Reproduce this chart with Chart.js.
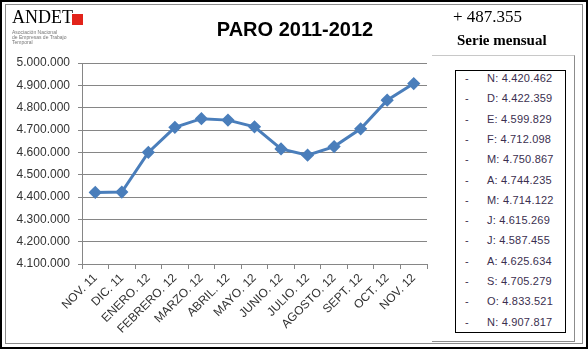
<!DOCTYPE html>
<html>
<head>
<meta charset="utf-8">
<script src="https://cdn.jsdelivr.net/npm/chart.js@4.4.0/dist/chart.umd.min.js"></script>
<style>
  html, body { margin: 0; padding: 0; background: #fff; }
  #frame { position: relative; width: 588px; height: 349px; box-sizing: border-box; border: 2px solid #000; overflow: hidden; }
  .abs { position: absolute; white-space: nowrap; }
  #chartBox { position: absolute; left: -2px; top: -2px; width: 440px; height: 349px; }
  #inner { position: absolute; left: 3px; top: 2px; width: 576px; height: 338px; border: 1px solid #8c8c8c; }
  #panelFrame { position: absolute; left: 430px; top: 53px; width: 142px; height: 285px; border-top: 1px solid #c8c8c8; border-right: 1px solid #8c8c8c; border-bottom: 1px solid #8c8c8c; }
  #list { position: absolute; left: 453px; top: 68px; width: 109px; height: 261px; border: 1px solid #000; }
  .row { position: absolute; left: 0; width: 109px; height: 14px; white-space: nowrap; font: 11px "Liberation Sans", sans-serif; color: #3b2f4f; }
  .row .d { position: absolute; left: 9px; top: 0; }
  .row .t { position: absolute; left: 31px; top: 0; letter-spacing: 0.2px; }
  #title { left: 0; width: 586px; top: 16px; text-align: center; font: bold 20px "Liberation Sans", sans-serif; color: #000; }
  #logo { left: 10px; top: 5px; font: 18px "Liberation Serif", serif; color: #000; }
  #redsq { left: 70px; top: 12px; width: 11px; height: 11px; background: #e2231a; }
  .tiny { font: 5px "Liberation Sans", sans-serif; color: #777; }
</style>
</head>
<body>
<div id="frame">
  <div id="inner"></div>
  <div id="panelFrame"></div>
  <div id="chartBox"><canvas id="paroChart"></canvas></div>
  <div class="abs" id="logo">ANDET</div>
  <div class="abs" id="redsq"></div>
  <div class="abs tiny" style="left:10px;top:27px;">Asociación Nacional</div>
  <div class="abs tiny" style="left:10px;top:32px;">de Empresas de Trabajo</div>
  <div class="abs tiny" style="left:10px;top:37px;">Temporal</div>
  <div class="abs" id="title">PARO 2011-2012</div>
  <div class="abs" style="left:451px;top:5px;font:17px 'Liberation Serif', serif;color:#000;">+ 487.355</div>
  <div class="abs" style="left:455px;top:30px;font:bold 15px 'Liberation Serif', serif;color:#000;">Serie mensual</div>
  <div id="list"></div>
</div>
<script>
const months = ['NOV. 11', 'DIC. 11', 'ENERO. 12', 'FEBRERO. 12', 'MARZO. 12', 'ABRIL. 12', 'MAYO. 12',
  'JUNIO. 12', 'JULIO. 12', 'AGOSTO. 12', 'SEPT. 12', 'OCT. 12', 'NOV. 12'];
const initials = ['N', 'D', 'E', 'F', 'M', 'A', 'M', 'J', 'J', 'A', 'S', 'O', 'N'];
const paro = [4420462, 4422359, 4599829, 4712098, 4750867, 4744235, 4714122,
  4615269, 4587455, 4625634, 4705279, 4833521, 4907817];
const yMin = 4100000;
const yMax = 5000000;
const yStep = 100000;

function fmt(v) {
  return String(Math.round(v)).replace(/\B(?=(\d{3})+(?!\d))/g, '.');
}

// lista de la derecha
const list = document.getElementById('list');
paro.forEach((v, i) => {
  const row = document.createElement('div');
  row.className = 'row';
  row.style.top = (1 + i * 20.3) + 'px';
  row.innerHTML = '<span class="d">-</span><span class="t">' + initials[i] + ': ' + fmt(v) + '</span>';
  list.appendChild(row);
});

const ctx = document.getElementById('paroChart').getContext('2d');
const gridColor = '#868686';

new Chart(ctx, {
  type: 'line',
  data: {
    labels: months,
    datasets: [{
      label: 'Paro',
      data: paro,
      borderColor: '#4a7ebb',
      backgroundColor: '#4a7ebb',
      borderWidth: 3,
      tension: 0,
      pointStyle: 'rectRot',
      pointRadius: 4.5,
      pointBackgroundColor: '#4a7ebb',
      pointBorderColor: '#4a7ebb'
    }]
  },
  options: {
    responsive: true,
    maintainAspectRatio: false,
    animation: false,
    layout: { padding: { top: 63, right: 13, bottom: 0, left: 0 } },
    plugins: {
      legend: { display: false },
      tooltip: { enabled: false }
    },
    scales: {
      y: {
        min: yMin,
        max: yMax,
        afterFit: s => { s.width = 82; },
        ticks: {
          stepSize: yStep,
          padding: 8,
          color: '#333',
          font: { family: 'Liberation Sans', size: 12 },
          callback: v => fmt(v)
        },
        grid: { color: gridColor, tickLength: 4 },
        border: { color: gridColor }
      },
      x: {
        offset: true,
        afterFit: s => { s.height = 85; },
        ticks: {
          autoSkip: false,
          minRotation: 45,
          maxRotation: 45,
          padding: 2,
          color: '#333',
          font: { family: 'Liberation Sans', size: 12 }
        },
        grid: { offset: true, drawOnChartArea: false, color: gridColor, tickLength: 5 },
        border: { color: gridColor }
      }
    }
  }
});
</script>
</body>
</html>
